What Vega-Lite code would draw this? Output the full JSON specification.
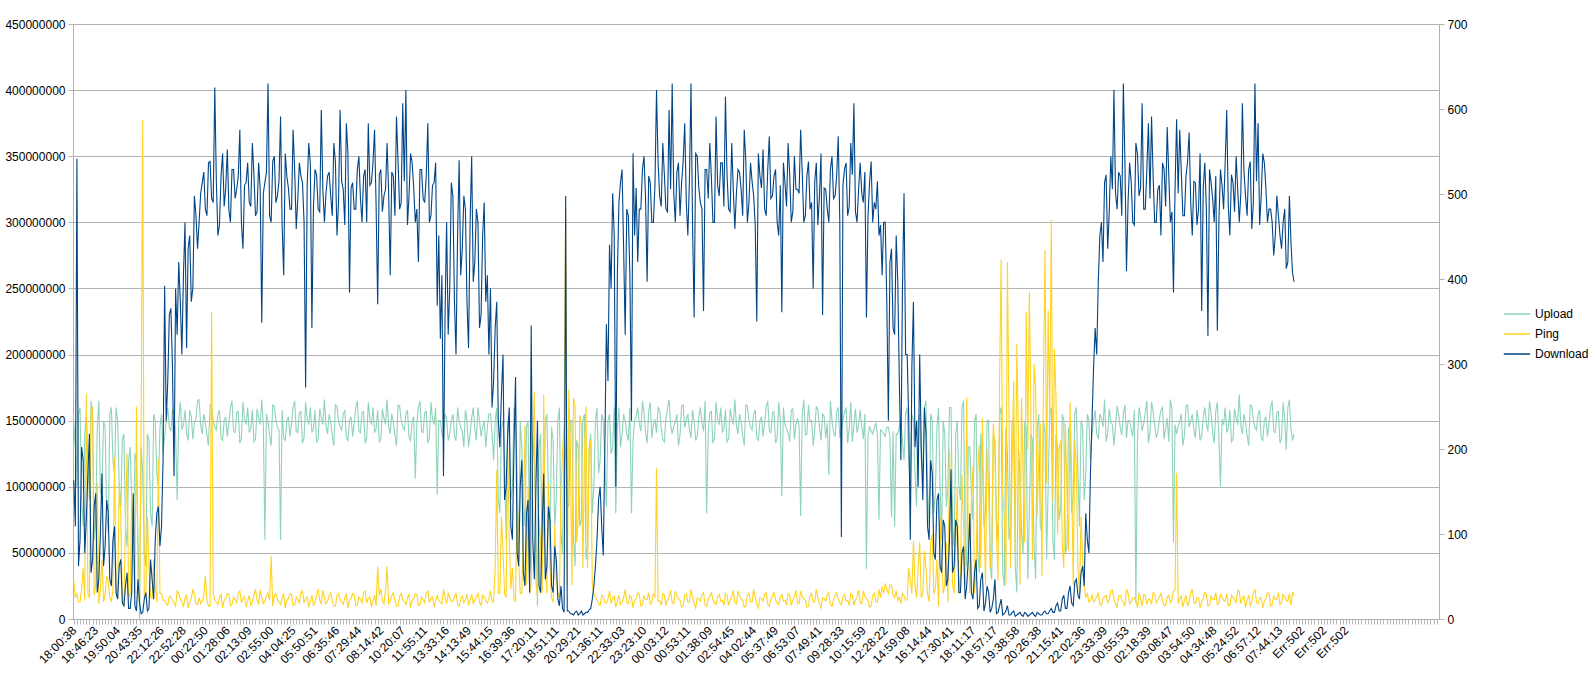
{
"$schema": "https://vega.github.io/schema/vega-lite/v6.json",
"autosize": {"type": "none"},
"padding": {"left": 73, "top": 24, "right": 156, "bottom": 62},
"width": 1366,
"height": 595,
"background": "white",
"config": {"font": "Liberation Sans", "view": {"stroke": null},
 "axis": {"labelFont": "Liberation Sans", "labelFontSize": 12, "labelColor": "#000000", "domainColor": "#b3b3b3", "tickColor": "#b3b3b3", "gridColor": "#b3b3b3", "tickSize": 5, "title": null}},
"data": {"values": [
{"i":0,"d":105000000,"u":130000000,"p":45},{"i":1,"d":70000000,"u":150000000,"p":25},{"i":2,"d":348000000,"u":100000000,"p":30},{"i":3,"d":40000000,"u":155000000,"p":20},{"i":4,"d":60000000,"u":160000000,"p":20},{"i":5,"d":130000000,"u":90000000,"p":35},{"i":6,"d":120000000,"u":70000000,"p":60},{"i":7,"d":50000000,"u":140000000,"p":22},{"i":8,"d":75000000,"u":155000000,"p":265},{"i":9,"d":110000000,"u":120000000,"p":30},
{"i":10,"d":140000000,"u":90000000,"p":25},{"i":11,"d":35000000,"u":165000000,"p":240},{"i":12,"d":45000000,"u":150000000,"p":250},{"i":13,"d":85000000,"u":60000000,"p":28},{"i":14,"d":95000000,"u":75000000,"p":40},{"i":15,"d":20000000,"u":145000000,"p":160},{"i":16,"d":30000000,"u":165000000,"p":18},{"i":17,"d":65000000,"u":95000000,"p":35},{"i":18,"d":110000000,"u":100000000,"p":70},{"i":19,"d":40000000,"u":150000000,"p":20},
{"i":20,"d":55000000,"u":145000000,"p":30},{"i":21,"d":90000000,"u":80000000,"p":50},{"i":22,"d":80000000,"u":65000000,"p":45},{"i":23,"d":30000000,"u":155000000,"p":25},{"i":24,"d":25000000,"u":160000000,"p":20},{"i":25,"d":60000000,"u":120000000,"p":35},{"i":26,"d":70000000,"u":110000000,"p":190},{"i":27,"d":20000000,"u":160000000,"p":30},{"i":28,"d":15000000,"u":150000000,"p":25},{"i":29,"d":40000000,"u":100000000,"p":160},
{"i":30,"d":45000000,"u":85000000,"p":120},{"i":31,"d":12000000,"u":135000000,"p":20},{"i":32,"d":10000000,"u":140000000,"p":15},{"i":33,"d":25000000,"u":70000000,"p":110},{"i":34,"d":35000000,"u":55000000,"p":195},{"i":35,"d":8000000,"u":120000000,"p":25},{"i":36,"d":8000000,"u":130000000,"p":30},{"i":37,"d":20000000,"u":90000000,"p":150},{"i":38,"d":95000000,"u":45000000,"p":80},{"i":39,"d":10000000,"u":125000000,"p":30},
{"i":40,"d":6000000,"u":120000000,"p":250},{"i":41,"d":30000000,"u":60000000,"p":40},{"i":42,"d":12000000,"u":0,"p":20},{"i":43,"d":4000000,"u":130000000,"p":230},{"i":44,"d":5000000,"u":110000000,"p":587},{"i":45,"d":15000000,"u":50000000,"p":25},{"i":46,"d":20000000,"u":40000000,"p":30},{"i":47,"d":6000000,"u":140000000,"p":120},{"i":48,"d":8000000,"u":135000000,"p":60},{"i":49,"d":45000000,"u":80000000,"p":25},
{"i":50,"d":30000000,"u":70000000,"p":25},{"i":51,"d":15000000,"u":155000000,"p":70},{"i":52,"d":60000000,"u":150000000,"p":40},{"i":53,"d":80000000,"u":110000000,"p":20},{"i":54,"d":85000000,"u":100000000,"p":188},{"i":55,"d":55000000,"u":145000000,"p":30},{"i":56,"d":70000000,"u":155000000,"p":30},{"i":57,"d":120000000,"u":125000000,"p":22},{"i":58,"d":252000000,"u":138000000,"p":22},{"i":59,"d":150000000,"u":150000000,"p":18},
{"i":60,"d":180000000,"u":160000000,"p":16},{"i":61,"d":230000000,"u":145000000,"p":27},{"i":62,"d":235000000,"u":142000000,"p":26},{"i":63,"d":190000000,"u":158000000,"p":22},{"i":64,"d":108000000,"u":156000000,"p":19},{"i":65,"d":250000000,"u":140000000,"p":15},{"i":66,"d":215000000,"u":90000000,"p":33},{"i":67,"d":270000000,"u":150000000,"p":30},{"i":68,"d":240000000,"u":164000000,"p":24},{"i":69,"d":200000000,"u":143000000,"p":20},
{"i":70,"d":260000000,"u":147000000,"p":14},{"i":71,"d":300000000,"u":158000000,"p":25},{"i":72,"d":205000000,"u":141000000,"p":28},{"i":73,"d":280000000,"u":135000000,"p":13},{"i":74,"d":290000000,"u":158000000,"p":20},{"i":75,"d":240000000,"u":153000000,"p":24},{"i":76,"d":250000000,"u":136000000,"p":35},{"i":77,"d":320000000,"u":148000000,"p":29},{"i":78,"d":305000000,"u":152000000,"p":18},{"i":79,"d":280000000,"u":165000000,"p":17},
{"i":80,"d":300000000,"u":166000000,"p":25},{"i":81,"d":322000000,"u":146000000,"p":18},{"i":82,"d":330000000,"u":140000000,"p":21},{"i":83,"d":338000000,"u":155000000,"p":27},{"i":84,"d":310000000,"u":149000000,"p":51},{"i":85,"d":305000000,"u":139000000,"p":22},{"i":86,"d":345000000,"u":131000000,"p":15},{"i":87,"d":346000000,"u":162000000,"p":15},{"i":88,"d":318000000,"u":161000000,"p":361},{"i":89,"d":315000000,"u":150000000,"p":30},
{"i":90,"d":402000000,"u":145000000,"p":23},{"i":91,"d":331000000,"u":143000000,"p":20},{"i":92,"d":290000000,"u":155000000,"p":17},{"i":93,"d":298000000,"u":158000000,"p":25},{"i":94,"d":335000000,"u":137000000,"p":29},{"i":95,"d":352000000,"u":135000000,"p":13},{"i":96,"d":312000000,"u":150000000,"p":22},{"i":97,"d":326000000,"u":153000000,"p":24},{"i":98,"d":355000000,"u":138000000,"p":30},{"i":99,"d":310000000,"u":148000000,"p":29},
{"i":100,"d":300000000,"u":160000000,"p":16},{"i":101,"d":340000000,"u":165000000,"p":17},{"i":102,"d":340000000,"u":142000000,"p":26},{"i":103,"d":318000000,"u":141000000,"p":23},{"i":104,"d":325000000,"u":156000000,"p":19},{"i":105,"d":335000000,"u":157000000,"p":31},{"i":106,"d":370000000,"u":133000000,"p":33},{"i":107,"d":300000000,"u":137000000,"p":19},{"i":108,"d":280000000,"u":164000000,"p":24},{"i":109,"d":328000000,"u":151000000,"p":26},
{"i":110,"d":330000000,"u":147000000,"p":14},{"i":111,"d":345000000,"u":160000000,"p":21},{"i":112,"d":315000000,"u":141000000,"p":28},{"i":113,"d":312000000,"u":144000000,"p":16},{"i":114,"d":360000000,"u":158000000,"p":20},{"i":115,"d":336000000,"u":134000000,"p":28},{"i":116,"d":305000000,"u":136000000,"p":35},{"i":117,"d":308000000,"u":159000000,"p":22},{"i":118,"d":345000000,"u":152000000,"p":18},{"i":119,"d":325000000,"u":147000000,"p":34},
{"i":120,"d":224000000,"u":166000000,"p":25},{"i":121,"d":322000000,"u":146000000,"p":18},{"i":122,"d":330000000,"u":60000000,"p":21},{"i":123,"d":338000000,"u":155000000,"p":27},{"i":124,"d":405000000,"u":149000000,"p":31},{"i":125,"d":305000000,"u":139000000,"p":22},{"i":126,"d":300000000,"u":131000000,"p":74},{"i":127,"d":346000000,"u":162000000,"p":15},{"i":128,"d":350000000,"u":161000000,"p":27},{"i":129,"d":315000000,"u":150000000,"p":30},
{"i":130,"d":320000000,"u":145000000,"p":23},{"i":131,"d":331000000,"u":143000000,"p":20},{"i":132,"d":380000000,"u":60000000,"p":17},{"i":133,"d":298000000,"u":158000000,"p":25},{"i":134,"d":260000000,"u":137000000,"p":29},{"i":135,"d":352000000,"u":135000000,"p":13},{"i":136,"d":335000000,"u":150000000,"p":22},{"i":137,"d":326000000,"u":153000000,"p":24},{"i":138,"d":310000000,"u":138000000,"p":30},{"i":139,"d":310000000,"u":148000000,"p":29},
{"i":140,"d":370000000,"u":160000000,"p":16},{"i":141,"d":340000000,"u":165000000,"p":17},{"i":142,"d":295000000,"u":142000000,"p":26},{"i":143,"d":318000000,"u":141000000,"p":23},{"i":144,"d":345000000,"u":156000000,"p":19},{"i":145,"d":335000000,"u":157000000,"p":31},{"i":146,"d":330000000,"u":133000000,"p":33},{"i":147,"d":300000000,"u":137000000,"p":19},{"i":148,"d":175000000,"u":164000000,"p":24},{"i":149,"d":328000000,"u":151000000,"p":26},
{"i":150,"d":360000000,"u":147000000,"p":14},{"i":151,"d":345000000,"u":160000000,"p":21},{"i":152,"d":220000000,"u":141000000,"p":28},{"i":153,"d":312000000,"u":144000000,"p":16},{"i":154,"d":340000000,"u":158000000,"p":20},{"i":155,"d":336000000,"u":134000000,"p":28},{"i":156,"d":310000000,"u":136000000,"p":35},{"i":157,"d":308000000,"u":159000000,"p":22},{"i":158,"d":385000000,"u":152000000,"p":18},{"i":159,"d":325000000,"u":147000000,"p":34},
{"i":160,"d":300000000,"u":166000000,"p":25},{"i":161,"d":322000000,"u":146000000,"p":18},{"i":162,"d":335000000,"u":140000000,"p":21},{"i":163,"d":338000000,"u":155000000,"p":27},{"i":164,"d":320000000,"u":149000000,"p":31},{"i":165,"d":305000000,"u":139000000,"p":22},{"i":166,"d":360000000,"u":131000000,"p":15},{"i":167,"d":346000000,"u":162000000,"p":15},{"i":168,"d":290000000,"u":161000000,"p":27},{"i":169,"d":315000000,"u":150000000,"p":30},
{"i":170,"d":385000000,"u":145000000,"p":23},{"i":171,"d":331000000,"u":143000000,"p":20},{"i":172,"d":325000000,"u":155000000,"p":17},{"i":173,"d":298000000,"u":158000000,"p":25},{"i":174,"d":375000000,"u":137000000,"p":29},{"i":175,"d":352000000,"u":135000000,"p":13},{"i":176,"d":247000000,"u":150000000,"p":22},{"i":177,"d":326000000,"u":153000000,"p":24},{"i":178,"d":330000000,"u":138000000,"p":30},{"i":179,"d":310000000,"u":148000000,"p":29},
{"i":180,"d":310000000,"u":160000000,"p":16},{"i":181,"d":340000000,"u":165000000,"p":17},{"i":182,"d":350000000,"u":142000000,"p":26},{"i":183,"d":318000000,"u":141000000,"p":23},{"i":184,"d":300000000,"u":156000000,"p":19},{"i":185,"d":335000000,"u":157000000,"p":31},{"i":186,"d":340000000,"u":133000000,"p":33},{"i":187,"d":300000000,"u":137000000,"p":19},{"i":188,"d":375000000,"u":164000000,"p":24},{"i":189,"d":328000000,"u":151000000,"p":26},
{"i":190,"d":330000000,"u":147000000,"p":14},{"i":191,"d":345000000,"u":160000000,"p":21},{"i":192,"d":370000000,"u":141000000,"p":28},{"i":193,"d":312000000,"u":144000000,"p":16},{"i":194,"d":238000000,"u":158000000,"p":62},{"i":195,"d":336000000,"u":134000000,"p":28},{"i":196,"d":340000000,"u":136000000,"p":35},{"i":197,"d":308000000,"u":159000000,"p":22},{"i":198,"d":320000000,"u":152000000,"p":18},{"i":199,"d":325000000,"u":147000000,"p":34},
{"i":200,"d":360000000,"u":166000000,"p":62},{"i":201,"d":322000000,"u":146000000,"p":18},{"i":202,"d":260000000,"u":140000000,"p":21},{"i":203,"d":338000000,"u":155000000,"p":27},{"i":204,"d":335000000,"u":149000000,"p":31},{"i":205,"d":305000000,"u":139000000,"p":22},{"i":206,"d":380000000,"u":131000000,"p":15},{"i":207,"d":346000000,"u":162000000,"p":15},{"i":208,"d":310000000,"u":161000000,"p":27},{"i":209,"d":315000000,"u":150000000,"p":30},
{"i":210,"d":390000000,"u":145000000,"p":23},{"i":211,"d":331000000,"u":143000000,"p":20},{"i":212,"d":400000000,"u":155000000,"p":17},{"i":213,"d":298000000,"u":158000000,"p":25},{"i":214,"d":320000000,"u":137000000,"p":29},{"i":215,"d":352000000,"u":135000000,"p":13},{"i":216,"d":345000000,"u":150000000,"p":22},{"i":217,"d":326000000,"u":153000000,"p":24},{"i":218,"d":300000000,"u":106000000,"p":30},{"i":219,"d":310000000,"u":148000000,"p":29},
{"i":220,"d":270000000,"u":160000000,"p":16},{"i":221,"d":340000000,"u":165000000,"p":17},{"i":222,"d":340000000,"u":142000000,"p":26},{"i":223,"d":318000000,"u":141000000,"p":23},{"i":224,"d":315000000,"u":156000000,"p":19},{"i":225,"d":335000000,"u":157000000,"p":31},{"i":226,"d":375000000,"u":133000000,"p":33},{"i":227,"d":300000000,"u":137000000,"p":19},{"i":228,"d":305000000,"u":164000000,"p":24},{"i":229,"d":328000000,"u":151000000,"p":26},
{"i":230,"d":330000000,"u":147000000,"p":14},{"i":231,"d":345000000,"u":160000000,"p":21},{"i":232,"d":237000000,"u":94000000,"p":28},{"i":233,"d":290000000,"u":150000000,"p":22},{"i":234,"d":212000000,"u":150000000,"p":20},{"i":235,"d":260000000,"u":140000000,"p":18},{"i":236,"d":108000000,"u":136000000,"p":35},{"i":237,"d":230000000,"u":155000000,"p":25},{"i":238,"d":300000000,"u":152000000,"p":18},{"i":239,"d":215000000,"u":135000000,"p":30},
{"i":240,"d":250000000,"u":140000000,"p":25},{"i":241,"d":330000000,"u":150000000,"p":20},{"i":242,"d":320000000,"u":155000000,"p":21},{"i":243,"d":240000000,"u":138000000,"p":26},{"i":244,"d":200000000,"u":135000000,"p":31},{"i":245,"d":290000000,"u":160000000,"p":17},{"i":246,"d":347000000,"u":150000000,"p":15},{"i":247,"d":260000000,"u":145000000,"p":24},{"i":248,"d":280000000,"u":142000000,"p":27},{"i":249,"d":320000000,"u":130000000,"p":19},
{"i":250,"d":310000000,"u":158000000,"p":23},{"i":251,"d":240000000,"u":150000000,"p":28},{"i":252,"d":205000000,"u":130000000,"p":17},{"i":253,"d":300000000,"u":140000000,"p":22},{"i":254,"d":350000000,"u":152000000,"p":29},{"i":255,"d":255000000,"u":160000000,"p":18},{"i":256,"d":270000000,"u":144000000,"p":22},{"i":257,"d":310000000,"u":135000000,"p":26},{"i":258,"d":300000000,"u":160000000,"p":30},{"i":259,"d":220000000,"u":150000000,"p":20},
{"i":260,"d":230000000,"u":138000000,"p":16},{"i":261,"d":290000000,"u":145000000,"p":28},{"i":262,"d":315000000,"u":150000000,"p":26},{"i":263,"d":240000000,"u":130000000,"p":21},{"i":264,"d":260000000,"u":145000000,"p":19},{"i":265,"d":200000000,"u":155000000,"p":24},{"i":266,"d":250000000,"u":155000000,"p":33},{"i":267,"d":160000000,"u":140000000,"p":20},{"i":268,"d":180000000,"u":120000000,"p":20},{"i":269,"d":220000000,"u":150000000,"p":60},
{"i":270,"d":240000000,"u":160000000,"p":175},{"i":271,"d":150000000,"u":90000000,"p":30},{"i":272,"d":130000000,"u":80000000,"p":30},{"i":273,"d":170000000,"u":145000000,"p":120},{"i":274,"d":200000000,"u":150000000,"p":80},{"i":275,"d":90000000,"u":120000000,"p":30},{"i":276,"d":100000000,"u":60000000,"p":25},{"i":277,"d":140000000,"u":150000000,"p":200},{"i":278,"d":160000000,"u":140000000,"p":95},{"i":279,"d":70000000,"u":90000000,"p":35},
{"i":280,"d":60000000,"u":100000000,"p":60},{"i":281,"d":130000000,"u":160000000,"p":25},{"i":282,"d":183000000,"u":155000000,"p":20},{"i":283,"d":50000000,"u":110000000,"p":150},{"i":284,"d":40000000,"u":45000000,"p":70},{"i":285,"d":100000000,"u":150000000,"p":30},{"i":286,"d":120000000,"u":130000000,"p":30},{"i":287,"d":35000000,"u":90000000,"p":110},{"i":288,"d":25000000,"u":70000000,"p":228},{"i":289,"d":80000000,"u":145000000,"p":40},
{"i":290,"d":90000000,"u":150000000,"p":155},{"i":291,"d":20000000,"u":55000000,"p":30},{"i":292,"d":222000000,"u":35000000,"p":40},{"i":293,"d":60000000,"u":140000000,"p":200},{"i":294,"d":30000000,"u":120000000,"p":267},{"i":295,"d":100000000,"u":75000000,"p":45},{"i":296,"d":150000000,"u":10000000,"p":25},{"i":297,"d":25000000,"u":130000000,"p":120},{"i":298,"d":20000000,"u":140000000,"p":90},{"i":299,"d":70000000,"u":40000000,"p":30},
{"i":300,"d":110000000,"u":80000000,"p":264},{"i":301,"d":30000000,"u":150000000,"p":60},{"i":302,"d":40000000,"u":155000000,"p":30},{"i":303,"d":85000000,"u":95000000,"p":160},{"i":304,"d":75000000,"u":60000000,"p":60},{"i":305,"d":25000000,"u":145000000,"p":25},{"i":306,"d":20000000,"u":135000000,"p":20},{"i":307,"d":55000000,"u":70000000,"p":110},{"i":308,"d":45000000,"u":90000000,"p":45},{"i":309,"d":15000000,"u":150000000,"p":30},
{"i":310,"d":10000000,"u":160000000,"p":25},{"i":311,"d":25000000,"u":65000000,"p":150},{"i":312,"d":8000000,"u":50000000,"p":196},{"i":313,"d":5000000,"u":140000000,"p":230},{"i":314,"d":320000000,"u":125000000,"p":484},{"i":315,"d":6000000,"u":90000000,"p":40},{"i":316,"d":6000000,"u":85000000,"p":270},{"i":317,"d":4000000,"u":150000000,"p":200},{"i":318,"d":4000000,"u":150000000,"p":40},{"i":319,"d":3000000,"u":60000000,"p":260},
{"i":320,"d":5000000,"u":40000000,"p":250},{"i":321,"d":6000000,"u":135000000,"p":90},{"i":322,"d":3000000,"u":130000000,"p":120},{"i":323,"d":4000000,"u":70000000,"p":240},{"i":324,"d":6000000,"u":75000000,"p":230},{"i":325,"d":3000000,"u":150000000,"p":60},{"i":326,"d":4000000,"u":155000000,"p":195},{"i":327,"d":5000000,"u":45000000,"p":250},{"i":328,"d":5000000,"u":55000000,"p":60},{"i":329,"d":7000000,"u":130000000,"p":200},
{"i":330,"d":8000000,"u":140000000,"p":210},{"i":331,"d":15000000,"u":80000000,"p":40},{"i":332,"d":25000000,"u":100000000,"p":30},{"i":333,"d":40000000,"u":150000000,"p":25},{"i":334,"d":60000000,"u":160000000,"p":22},{"i":335,"d":90000000,"u":110000000,"p":18},{"i":336,"d":100000000,"u":120000000,"p":16},{"i":337,"d":70000000,"u":155000000,"p":28},{"i":338,"d":48000000,"u":150000000,"p":26},{"i":339,"d":130000000,"u":120000000,"p":20},
{"i":340,"d":223000000,"u":85000000,"p":19},{"i":341,"d":180000000,"u":150000000,"p":24},{"i":342,"d":283000000,"u":155000000,"p":33},{"i":343,"d":250000000,"u":125000000,"p":18},{"i":344,"d":322000000,"u":130000000,"p":24},{"i":345,"d":290000000,"u":160000000,"p":27},{"i":346,"d":100000000,"u":80000000,"p":14},{"i":347,"d":260000000,"u":145000000,"p":21},{"i":348,"d":315000000,"u":160000000,"p":28},{"i":349,"d":330000000,"u":130000000,"p":17},
{"i":350,"d":340000000,"u":140000000,"p":20},{"i":351,"d":280000000,"u":155000000,"p":25},{"i":352,"d":215000000,"u":150000000,"p":35},{"i":353,"d":310000000,"u":140000000,"p":19},{"i":354,"d":305000000,"u":135000000,"p":18},{"i":355,"d":260000000,"u":160000000,"p":28},{"i":356,"d":150000000,"u":80000000,"p":25},{"i":357,"d":352000000,"u":135000000,"p":13},{"i":358,"d":290000000,"u":150000000,"p":21},{"i":359,"d":326000000,"u":153000000,"p":24},
{"i":360,"d":270000000,"u":160000000,"p":31},{"i":361,"d":310000000,"u":148000000,"p":29},{"i":362,"d":310000000,"u":142000000,"p":15},{"i":363,"d":340000000,"u":165000000,"p":17},{"i":364,"d":350000000,"u":156000000,"p":27},{"i":365,"d":318000000,"u":141000000,"p":23},{"i":366,"d":255000000,"u":133000000,"p":23},{"i":367,"d":335000000,"u":157000000,"p":31},{"i":368,"d":330000000,"u":164000000,"p":17},{"i":369,"d":300000000,"u":137000000,"p":19},
{"i":370,"d":300000000,"u":147000000,"p":29},{"i":371,"d":328000000,"u":151000000,"p":26},{"i":372,"d":400000000,"u":141000000,"p":177},{"i":373,"d":345000000,"u":160000000,"p":21},{"i":374,"d":320000000,"u":158000000,"p":22},{"i":375,"d":312000000,"u":144000000,"p":16},{"i":376,"d":360000000,"u":136000000,"p":30},{"i":377,"d":336000000,"u":134000000,"p":28},{"i":378,"d":310000000,"u":152000000,"p":16},{"i":379,"d":308000000,"u":159000000,"p":22},
{"i":380,"d":385000000,"u":166000000,"p":26},{"i":381,"d":325000000,"u":147000000,"p":34},{"i":382,"d":405000000,"u":140000000,"p":19},{"i":383,"d":322000000,"u":146000000,"p":18},{"i":384,"d":300000000,"u":149000000,"p":33},{"i":385,"d":338000000,"u":155000000,"p":27},{"i":386,"d":345000000,"u":131000000,"p":24},{"i":387,"d":305000000,"u":139000000,"p":22},{"i":388,"d":330000000,"u":161000000,"p":14},{"i":389,"d":346000000,"u":162000000,"p":15},
{"i":390,"d":375000000,"u":145000000,"p":28},{"i":391,"d":315000000,"u":150000000,"p":30},{"i":392,"d":290000000,"u":155000000,"p":20},{"i":393,"d":331000000,"u":143000000,"p":20},{"i":394,"d":405000000,"u":137000000,"p":35},{"i":395,"d":298000000,"u":158000000,"p":25},{"i":396,"d":228000000,"u":150000000,"p":18},{"i":397,"d":352000000,"u":135000000,"p":13},{"i":398,"d":350000000,"u":138000000,"p":25},{"i":399,"d":326000000,"u":153000000,"p":24},
{"i":400,"d":315000000,"u":160000000,"p":21},{"i":401,"d":310000000,"u":148000000,"p":29},{"i":402,"d":233000000,"u":142000000,"p":31},{"i":403,"d":340000000,"u":165000000,"p":17},{"i":404,"d":340000000,"u":80000000,"p":15},{"i":405,"d":318000000,"u":141000000,"p":23},{"i":406,"d":360000000,"u":156000000,"p":27},{"i":407,"d":335000000,"u":157000000,"p":31},{"i":408,"d":300000000,"u":133000000,"p":23},{"i":409,"d":300000000,"u":137000000,"p":19},
{"i":410,"d":380000000,"u":164000000,"p":17},{"i":411,"d":328000000,"u":151000000,"p":26},{"i":412,"d":320000000,"u":147000000,"p":29},{"i":413,"d":345000000,"u":160000000,"p":21},{"i":414,"d":345000000,"u":141000000,"p":22},{"i":415,"d":312000000,"u":144000000,"p":16},{"i":416,"d":395000000,"u":158000000,"p":30},{"i":417,"d":336000000,"u":134000000,"p":28},{"i":418,"d":310000000,"u":136000000,"p":16},{"i":419,"d":308000000,"u":159000000,"p":22},
{"i":420,"d":360000000,"u":152000000,"p":26},{"i":421,"d":325000000,"u":147000000,"p":34},{"i":422,"d":295000000,"u":166000000,"p":19},{"i":423,"d":322000000,"u":146000000,"p":18},{"i":424,"d":340000000,"u":140000000,"p":33},{"i":425,"d":338000000,"u":155000000,"p":27},{"i":426,"d":325000000,"u":149000000,"p":24},{"i":427,"d":305000000,"u":139000000,"p":22},{"i":428,"d":370000000,"u":131000000,"p":14},{"i":429,"d":346000000,"u":162000000,"p":15},
{"i":430,"d":300000000,"u":161000000,"p":28},{"i":431,"d":315000000,"u":150000000,"p":30},{"i":432,"d":345000000,"u":145000000,"p":20},{"i":433,"d":331000000,"u":143000000,"p":20},{"i":434,"d":320000000,"u":155000000,"p":35},{"i":435,"d":298000000,"u":158000000,"p":25},{"i":436,"d":225000000,"u":137000000,"p":18},{"i":437,"d":352000000,"u":135000000,"p":13},{"i":438,"d":335000000,"u":150000000,"p":25},{"i":439,"d":326000000,"u":153000000,"p":24},
{"i":440,"d":355000000,"u":138000000,"p":21},{"i":441,"d":310000000,"u":148000000,"p":29},{"i":442,"d":305000000,"u":160000000,"p":31},{"i":443,"d":340000000,"u":165000000,"p":17},{"i":444,"d":365000000,"u":142000000,"p":15},{"i":445,"d":318000000,"u":141000000,"p":23},{"i":446,"d":320000000,"u":156000000,"p":27},{"i":447,"d":335000000,"u":157000000,"p":31},{"i":448,"d":340000000,"u":133000000,"p":23},{"i":449,"d":300000000,"u":137000000,"p":19},
{"i":450,"d":290000000,"u":164000000,"p":17},{"i":451,"d":328000000,"u":151000000,"p":26},{"i":452,"d":232000000,"u":93000000,"p":29},{"i":453,"d":345000000,"u":160000000,"p":21},{"i":454,"d":330000000,"u":147000000,"p":22},{"i":455,"d":312000000,"u":144000000,"p":16},{"i":456,"d":360000000,"u":141000000,"p":30},{"i":457,"d":336000000,"u":134000000,"p":28},{"i":458,"d":300000000,"u":158000000,"p":16},{"i":459,"d":308000000,"u":159000000,"p":22},
{"i":460,"d":350000000,"u":136000000,"p":26},{"i":461,"d":325000000,"u":147000000,"p":34},{"i":462,"d":325000000,"u":152000000,"p":19},{"i":463,"d":322000000,"u":146000000,"p":18},{"i":464,"d":370000000,"u":78000000,"p":33},{"i":465,"d":338000000,"u":155000000,"p":27},{"i":466,"d":300000000,"u":166000000,"p":24},{"i":467,"d":305000000,"u":139000000,"p":22},{"i":468,"d":335000000,"u":140000000,"p":14},{"i":469,"d":346000000,"u":162000000,"p":15},
{"i":470,"d":310000000,"u":149000000,"p":28},{"i":471,"d":315000000,"u":150000000,"p":30},{"i":472,"d":250000000,"u":131000000,"p":20},{"i":473,"d":331000000,"u":143000000,"p":20},{"i":474,"d":345000000,"u":161000000,"p":35},{"i":475,"d":298000000,"u":158000000,"p":25},{"i":476,"d":320000000,"u":145000000,"p":18},{"i":477,"d":352000000,"u":135000000,"p":13},{"i":478,"d":230000000,"u":155000000,"p":25},{"i":479,"d":326000000,"u":153000000,"p":24},
{"i":480,"d":325000000,"u":137000000,"p":21},{"i":481,"d":310000000,"u":148000000,"p":29},{"i":482,"d":300000000,"u":109000000,"p":31},{"i":483,"d":340000000,"u":165000000,"p":17},{"i":484,"d":350000000,"u":150000000,"p":15},{"i":485,"d":318000000,"u":141000000,"p":23},{"i":486,"d":320000000,"u":138000000,"p":27},{"i":487,"d":335000000,"u":157000000,"p":31},{"i":488,"d":365000000,"u":160000000,"p":23},{"i":489,"d":300000000,"u":137000000,"p":19},
{"i":490,"d":62000000,"u":142000000,"p":17},{"i":491,"d":328000000,"u":151000000,"p":26},{"i":492,"d":340000000,"u":156000000,"p":29},{"i":493,"d":345000000,"u":160000000,"p":21},{"i":494,"d":305000000,"u":133000000,"p":22},{"i":495,"d":312000000,"u":144000000,"p":16},{"i":496,"d":360000000,"u":164000000,"p":30},{"i":497,"d":336000000,"u":134000000,"p":28},{"i":498,"d":390000000,"u":147000000,"p":16},{"i":499,"d":308000000,"u":159000000,"p":22},
{"i":500,"d":300000000,"u":141000000,"p":26},{"i":501,"d":325000000,"u":147000000,"p":34},{"i":502,"d":345000000,"u":158000000,"p":19},{"i":503,"d":322000000,"u":146000000,"p":18},{"i":504,"d":315000000,"u":136000000,"p":33},{"i":505,"d":338000000,"u":155000000,"p":27},{"i":506,"d":228000000,"u":38000000,"p":24},{"i":507,"d":305000000,"u":139000000,"p":22},{"i":508,"d":330000000,"u":145000000,"p":14},{"i":509,"d":346000000,"u":142000000,"p":15},
{"i":510,"d":300000000,"u":140000000,"p":28},{"i":511,"d":315000000,"u":145000000,"p":30},{"i":512,"d":310000000,"u":148000000,"p":20},{"i":513,"d":331000000,"u":140000000,"p":20},{"i":514,"d":290000000,"u":75000000,"p":35},{"i":515,"d":298000000,"u":143000000,"p":25},{"i":516,"d":260000000,"u":142000000,"p":38},{"i":517,"d":300000000,"u":140000000,"p":30},{"i":518,"d":300000000,"u":138000000,"p":42},{"i":519,"d":240000000,"u":145000000,"p":35},
{"i":520,"d":150000000,"u":145000000,"p":30},{"i":521,"d":270000000,"u":138000000,"p":40},{"i":522,"d":280000000,"u":77000000,"p":40},{"i":523,"d":220000000,"u":142000000,"p":28},{"i":524,"d":215000000,"u":70000000,"p":25},{"i":525,"d":290000000,"u":140000000,"p":33},{"i":526,"d":255000000,"u":140000000,"p":22},{"i":527,"d":180000000,"u":145000000,"p":26},{"i":528,"d":120000000,"u":150000000,"p":18},{"i":529,"d":250000000,"u":135000000,"p":30},
{"i":530,"d":322000000,"u":120000000,"p":27},{"i":531,"d":200000000,"u":155000000,"p":22},{"i":532,"d":200000000,"u":160000000,"p":23},{"i":533,"d":150000000,"u":120000000,"p":60},{"i":534,"d":60000000,"u":100000000,"p":45},{"i":535,"d":190000000,"u":155000000,"p":30},{"i":536,"d":240000000,"u":150000000,"p":92},{"i":537,"d":130000000,"u":110000000,"p":40},{"i":538,"d":150000000,"u":85000000,"p":25},{"i":539,"d":100000000,"u":150000000,"p":60},
{"i":540,"d":200000000,"u":155000000,"p":90},{"i":541,"d":130000000,"u":120000000,"p":25},{"i":542,"d":90000000,"u":110000000,"p":30},{"i":543,"d":160000000,"u":160000000,"p":80},{"i":544,"d":140000000,"u":165000000,"p":60},{"i":545,"d":70000000,"u":100000000,"p":30},{"i":546,"d":60000000,"u":70000000,"p":20},{"i":547,"d":120000000,"u":155000000,"p":90},{"i":548,"d":110000000,"u":150000000,"p":100},{"i":549,"d":50000000,"u":80000000,"p":30},
{"i":550,"d":45000000,"u":95000000,"p":35},{"i":551,"d":90000000,"u":145000000,"p":70},{"i":552,"d":95000000,"u":160000000,"p":15},{"i":553,"d":40000000,"u":100000000,"p":120},{"i":554,"d":35000000,"u":60000000,"p":70},{"i":555,"d":75000000,"u":150000000,"p":30},{"i":556,"d":70000000,"u":140000000,"p":40},{"i":557,"d":25000000,"u":85000000,"p":90},{"i":558,"d":30000000,"u":100000000,"p":20},{"i":559,"d":60000000,"u":160000000,"p":200},
{"i":560,"d":113000000,"u":160000000,"p":130},{"i":561,"d":35000000,"u":70000000,"p":40},{"i":562,"d":40000000,"u":55000000,"p":30},{"i":563,"d":75000000,"u":140000000,"p":90},{"i":564,"d":70000000,"u":150000000,"p":155},{"i":565,"d":20000000,"u":100000000,"p":30},{"i":566,"d":20000000,"u":90000000,"p":50},{"i":567,"d":50000000,"u":160000000,"p":170},{"i":568,"d":55000000,"u":165000000,"p":110},{"i":569,"d":15000000,"u":60000000,"p":40},
{"i":570,"d":25000000,"u":40000000,"p":261},{"i":571,"d":45000000,"u":130000000,"p":90},{"i":572,"d":80000000,"u":130000000,"p":30},{"i":573,"d":20000000,"u":95000000,"p":140},{"i":574,"d":15000000,"u":75000000,"p":180},{"i":575,"d":35000000,"u":150000000,"p":30},{"i":576,"d":45000000,"u":155000000,"p":60},{"i":577,"d":8000000,"u":50000000,"p":170},{"i":578,"d":10000000,"u":35000000,"p":205},{"i":579,"d":30000000,"u":140000000,"p":60},
{"i":580,"d":35000000,"u":120000000,"p":236},{"i":581,"d":6000000,"u":70000000,"p":130},{"i":582,"d":12000000,"u":80000000,"p":40},{"i":583,"d":25000000,"u":150000000,"p":200},{"i":584,"d":20000000,"u":150000000,"p":150},{"i":585,"d":5000000,"u":40000000,"p":60},{"i":586,"d":8000000,"u":30000000,"p":90},{"i":587,"d":15000000,"u":140000000,"p":230},{"i":588,"d":30000000,"u":135000000,"p":200},{"i":589,"d":4000000,"u":75000000,"p":100},
{"i":590,"d":5000000,"u":60000000,"p":45},{"i":591,"d":10000000,"u":155000000,"p":280},{"i":592,"d":15000000,"u":160000000,"p":423},{"i":593,"d":3000000,"u":35000000,"p":150},{"i":594,"d":4000000,"u":25000000,"p":120},{"i":595,"d":6000000,"u":145000000,"p":40},{"i":596,"d":10000000,"u":125000000,"p":420},{"i":597,"d":3000000,"u":60000000,"p":240},{"i":598,"d":3000000,"u":70000000,"p":60},{"i":599,"d":5000000,"u":150000000,"p":180},
{"i":600,"d":6000000,"u":150000000,"p":280},{"i":601,"d":2000000,"u":40000000,"p":80},{"i":602,"d":3000000,"u":20000000,"p":324},{"i":603,"d":4000000,"u":130000000,"p":220},{"i":604,"d":5000000,"u":110000000,"p":40},{"i":605,"d":3000000,"u":65000000,"p":260},{"i":606,"d":2000000,"u":50000000,"p":170},{"i":607,"d":5000000,"u":150000000,"p":90},{"i":608,"d":4000000,"u":145000000,"p":361},{"i":609,"d":2000000,"u":30000000,"p":200},
{"i":610,"d":3000000,"u":80000000,"p":385},{"i":611,"d":4000000,"u":140000000,"p":240},{"i":612,"d":5000000,"u":135000000,"p":70},{"i":613,"d":3000000,"u":55000000,"p":300},{"i":614,"d":2000000,"u":30000000,"p":272},{"i":615,"d":5000000,"u":145000000,"p":120},{"i":616,"d":4000000,"u":155000000,"p":190},{"i":617,"d":3000000,"u":70000000,"p":230},{"i":618,"d":3000000,"u":65000000,"p":50},{"i":619,"d":5000000,"u":150000000,"p":280},
{"i":620,"d":6000000,"u":140000000,"p":434},{"i":621,"d":4000000,"u":45000000,"p":160},{"i":622,"d":4000000,"u":100000000,"p":363},{"i":623,"d":6000000,"u":155000000,"p":240},{"i":624,"d":8000000,"u":160000000,"p":470},{"i":625,"d":5000000,"u":60000000,"p":140},{"i":626,"d":5000000,"u":45000000,"p":318},{"i":627,"d":10000000,"u":140000000,"p":260},{"i":628,"d":12000000,"u":130000000,"p":100},{"i":629,"d":6000000,"u":75000000,"p":200},
{"i":630,"d":6000000,"u":85000000,"p":210},{"i":631,"d":15000000,"u":155000000,"p":90},{"i":632,"d":18000000,"u":150000000,"p":60},{"i":633,"d":8000000,"u":50000000,"p":230},{"i":634,"d":8000000,"u":55000000,"p":150},{"i":635,"d":20000000,"u":145000000,"p":80},{"i":636,"d":25000000,"u":140000000,"p":255},{"i":637,"d":12000000,"u":80000000,"p":170},{"i":638,"d":10000000,"u":95000000,"p":40},{"i":639,"d":28000000,"u":155000000,"p":210},
{"i":640,"d":30000000,"u":160000000,"p":180},{"i":641,"d":18000000,"u":110000000,"p":60},{"i":642,"d":15000000,"u":70000000,"p":30},{"i":643,"d":35000000,"u":150000000,"p":120},{"i":644,"d":40000000,"u":145000000,"p":70},{"i":645,"d":25000000,"u":90000000,"p":40},{"i":646,"d":80000000,"u":110000000,"p":25},{"i":647,"d":60000000,"u":155000000,"p":30},{"i":648,"d":50000000,"u":150000000,"p":20},{"i":649,"d":110000000,"u":120000000,"p":22},
{"i":650,"d":150000000,"u":140000000,"p":28},{"i":651,"d":190000000,"u":150000000,"p":20},{"i":652,"d":220000000,"u":158000000,"p":22},{"i":653,"d":200000000,"u":140000000,"p":26},{"i":654,"d":255000000,"u":136000000,"p":30},{"i":655,"d":290000000,"u":155000000,"p":18},{"i":656,"d":300000000,"u":152000000,"p":16},{"i":657,"d":270000000,"u":145000000,"p":24},{"i":658,"d":330000000,"u":166000000,"p":26},{"i":659,"d":336000000,"u":134000000,"p":28},
{"i":660,"d":280000000,"u":140000000,"p":19},{"i":661,"d":308000000,"u":159000000,"p":22},{"i":662,"d":350000000,"u":149000000,"p":33},{"i":663,"d":325000000,"u":147000000,"p":34},{"i":664,"d":400000000,"u":131000000,"p":24},{"i":665,"d":322000000,"u":146000000,"p":18},{"i":666,"d":310000000,"u":161000000,"p":14},{"i":667,"d":338000000,"u":155000000,"p":27},{"i":668,"d":335000000,"u":145000000,"p":28},{"i":669,"d":305000000,"u":139000000,"p":22},
{"i":670,"d":405000000,"u":155000000,"p":20},{"i":671,"d":346000000,"u":162000000,"p":15},{"i":672,"d":263000000,"u":137000000,"p":35},{"i":673,"d":315000000,"u":150000000,"p":30},{"i":674,"d":345000000,"u":150000000,"p":18},{"i":675,"d":331000000,"u":143000000,"p":20},{"i":676,"d":300000000,"u":138000000,"p":25},{"i":677,"d":298000000,"u":158000000,"p":25},{"i":678,"d":360000000,"u":12000000,"p":21},{"i":679,"d":352000000,"u":135000000,"p":13},
{"i":680,"d":320000000,"u":160000000,"p":31},{"i":681,"d":326000000,"u":153000000,"p":24},{"i":682,"d":390000000,"u":142000000,"p":15},{"i":683,"d":310000000,"u":148000000,"p":29},{"i":684,"d":310000000,"u":156000000,"p":27},{"i":685,"d":340000000,"u":165000000,"p":17},{"i":686,"d":375000000,"u":133000000,"p":23},{"i":687,"d":318000000,"u":141000000,"p":23},{"i":688,"d":380000000,"u":164000000,"p":17},{"i":689,"d":335000000,"u":157000000,"p":31},
{"i":690,"d":300000000,"u":147000000,"p":29},{"i":691,"d":300000000,"u":137000000,"p":19},{"i":692,"d":325000000,"u":141000000,"p":22},{"i":693,"d":328000000,"u":151000000,"p":26},{"i":694,"d":290000000,"u":158000000,"p":30},{"i":695,"d":345000000,"u":160000000,"p":21},{"i":696,"d":340000000,"u":136000000,"p":16},{"i":697,"d":312000000,"u":144000000,"p":16},{"i":698,"d":372000000,"u":152000000,"p":26},{"i":699,"d":336000000,"u":134000000,"p":28},
{"i":700,"d":300000000,"u":166000000,"p":19},{"i":701,"d":308000000,"u":159000000,"p":22},{"i":702,"d":247000000,"u":58000000,"p":33},{"i":703,"d":325000000,"u":147000000,"p":34},{"i":704,"d":378000000,"u":140000000,"p":172},{"i":705,"d":322000000,"u":146000000,"p":18},{"i":706,"d":370000000,"u":149000000,"p":24},{"i":707,"d":338000000,"u":155000000,"p":27},{"i":708,"d":305000000,"u":131000000,"p":14},{"i":709,"d":305000000,"u":139000000,"p":22},
{"i":710,"d":335000000,"u":161000000,"p":28},{"i":711,"d":346000000,"u":162000000,"p":15},{"i":712,"d":368000000,"u":145000000,"p":20},{"i":713,"d":315000000,"u":150000000,"p":30},{"i":714,"d":290000000,"u":155000000,"p":35},{"i":715,"d":331000000,"u":143000000,"p":20},{"i":716,"d":330000000,"u":137000000,"p":18},{"i":717,"d":298000000,"u":158000000,"p":25},{"i":718,"d":310000000,"u":150000000,"p":25},{"i":719,"d":352000000,"u":135000000,"p":13},
{"i":720,"d":233000000,"u":138000000,"p":21},{"i":721,"d":326000000,"u":153000000,"p":24},{"i":722,"d":345000000,"u":160000000,"p":31},{"i":723,"d":310000000,"u":148000000,"p":29},{"i":724,"d":214000000,"u":142000000,"p":15},{"i":725,"d":340000000,"u":165000000,"p":17},{"i":726,"d":330000000,"u":156000000,"p":27},{"i":727,"d":318000000,"u":141000000,"p":23},{"i":728,"d":300000000,"u":133000000,"p":23},{"i":729,"d":335000000,"u":157000000,"p":31},
{"i":730,"d":218000000,"u":164000000,"p":17},{"i":731,"d":300000000,"u":137000000,"p":19},{"i":732,"d":340000000,"u":100000000,"p":29},{"i":733,"d":328000000,"u":151000000,"p":26},{"i":734,"d":310000000,"u":147000000,"p":22},{"i":735,"d":345000000,"u":160000000,"p":21},{"i":736,"d":385000000,"u":141000000,"p":30},{"i":737,"d":312000000,"u":144000000,"p":16},{"i":738,"d":290000000,"u":158000000,"p":16},{"i":739,"d":336000000,"u":134000000,"p":28},
{"i":740,"d":330000000,"u":136000000,"p":26},{"i":741,"d":308000000,"u":159000000,"p":22},{"i":742,"d":350000000,"u":152000000,"p":19},{"i":743,"d":325000000,"u":147000000,"p":34},{"i":744,"d":300000000,"u":170000000,"p":33},{"i":745,"d":322000000,"u":146000000,"p":18},{"i":746,"d":390000000,"u":140000000,"p":24},{"i":747,"d":338000000,"u":155000000,"p":27},{"i":748,"d":320000000,"u":149000000,"p":14},{"i":749,"d":305000000,"u":139000000,"p":22},
{"i":750,"d":340000000,"u":131000000,"p":28},{"i":751,"d":346000000,"u":162000000,"p":15},{"i":752,"d":295000000,"u":161000000,"p":20},{"i":753,"d":315000000,"u":150000000,"p":30},{"i":754,"d":405000000,"u":145000000,"p":35},{"i":755,"d":331000000,"u":143000000,"p":20},{"i":756,"d":375000000,"u":155000000,"p":18},{"i":757,"d":298000000,"u":158000000,"p":25},{"i":758,"d":320000000,"u":137000000,"p":25},{"i":759,"d":352000000,"u":135000000,"p":13},
{"i":760,"d":345000000,"u":150000000,"p":21},{"i":761,"d":326000000,"u":153000000,"p":24},{"i":762,"d":300000000,"u":138000000,"p":31},{"i":763,"d":310000000,"u":148000000,"p":29},{"i":764,"d":310000000,"u":160000000,"p":15},{"i":765,"d":300000000,"u":165000000,"p":17},{"i":766,"d":275000000,"u":142000000,"p":27},{"i":767,"d":290000000,"u":141000000,"p":23},{"i":768,"d":320000000,"u":156000000,"p":23},{"i":769,"d":305000000,"u":157000000,"p":31},
{"i":770,"d":290000000,"u":133000000,"p":17},{"i":771,"d":280000000,"u":137000000,"p":19},{"i":772,"d":300000000,"u":164000000,"p":29},{"i":773,"d":310000000,"u":151000000,"p":26},{"i":774,"d":265000000,"u":128000000,"p":22},{"i":775,"d":270000000,"u":160000000,"p":21},{"i":776,"d":320000000,"u":166000000,"p":30},{"i":777,"d":285000000,"u":144000000,"p":16},{"i":778,"d":262000000,"u":135000000,"p":32},{"i":779,"d":255000000,"u":140000000,"p":27}
]},
"encoding": {
 "x": {"field": "i", "type": "quantitative",
  "scale": {"domain": [-0.5, 871.5], "nice": false, "zero": false},
  "axis": {"grid": false, "labelAngle": -45, "labelAlign": "right", "labelBaseline": "middle", "labelOverlap": false, "labelFlush": false, "labelBound": false, "labelPadding": 4, "tickSize": 5,
   "values": [0,2,4,6,8,10,12,14,16,18,20,22,24,26,28,30,32,34,36,38,40,42,44,46,48,50,52,54,56,58,60,62,64,66,68,70,72,74,76,78,80,82,84,86,88,90,92,94,96,98,100,102,104,106,108,110,112,114,116,118,120,122,124,126,128,130,132,134,136,138,140,142,144,146,148,150,152,154,156,158,160,162,164,166,168,170,172,174,176,178,180,182,184,186,188,190,192,194,196,198,200,202,204,206,208,210,212,214,216,218,220,222,224,226,228,230,232,234,236,238,240,242,244,246,248,250,252,254,256,258,260,262,264,266,268,270,272,274,276,278,280,282,284,286,288,290,292,294,296,298,300,302,304,306,308,310,312,314,316,318,320,322,324,326,328,330,332,334,336,338,340,342,344,346,348,350,352,354,356,358,360,362,364,366,368,370,372,374,376,378,380,382,384,386,388,390,392,394,396,398,400,402,404,406,408,410,412,414,416,418,420,422,424,426,428,430,432,434,436,438,440,442,444,446,448,450,452,454,456,458,460,462,464,466,468,470,472,474,476,478,480,482,484,486,488,490,492,494,496,498,500,502,504,506,508,510,512,514,516,518,520,522,524,526,528,530,532,534,536,538,540,542,544,546,548,550,552,554,556,558,560,562,564,566,568,570,572,574,576,578,580,582,584,586,588,590,592,594,596,598,600,602,604,606,608,610,612,614,616,618,620,622,624,626,628,630,632,634,636,638,640,642,644,646,648,650,652,654,656,658,660,662,664,666,668,670,672,674,676,678,680,682,684,686,688,690,692,694,696,698,700,702,704,706,708,710,712,714,716,718,720,722,724,726,728,730,732,734,736,738,740,742,744,746,748,750,752,754,756,758,760,762,764,766,768,770,772,774,776,778,780,782,784,786,788,790,792,794,796,798,800,802,804,806,808,810,812,814,816,818,820,822,824,826,828,830,832,834,836,838,840,842,844,846,848,850,852,854,856,858,860,862,864,866,868,870],
   "labelExpr": "(datum.value % 14 == 0 && datum.value <= 812) ? ['18:00:38','18:46:23','19:50:04','20:43:35','22:12:26','22:52:28','00:22:50','01:28:06','02:13:09','02:55:00','04:04:25','05:50:51','06:35:46','07:29:44','08:14:42','10:20:07','11:55:11','13:33:16','14:13:49','15:44:15','16:39:36','17:20:11','18:51:11','20:29:21','21:36:11','22:33:03','23:23:10','00:03:12','00:53:11','01:38:09','02:54:45','04:02:44','05:37:49','06:53:07','07:49:41','09:28:33','10:15:59','12:28:22','14:59:08','16:14:44','17:30:41','18:11:17','18:57:17','19:38:58','20:26:38','21:15:41','22:02:36','23:33:39','00:55:53','02:18:39','03:08:47','03:54:50','04:34:48','05:24:52','06:57:12','07:44:13','Err:502','Err:502','Err:502'][datum.value / 14] : ''"}}
},
"layer": [
 {"mark": {"type": "line", "strokeWidth": 1.1},
  "encoding": {
   "y": {"field": "u", "type": "quantitative", "scale": {"domain": [0, 450000000], "nice": false},
    "axis": {"orient": "left", "grid": true, "values": [0,50000000,100000000,150000000,200000000,250000000,300000000,350000000,400000000,450000000], "format": "d", "labelPadding": 3}},
   "color": {"datum": "Upload", "type": "nominal",
    "scale": {"domain": ["Upload", "Ping", "Download"], "range": ["#8fd3b8", "#ffd320", "#004586"]},
    "legend": {"title": null, "orient": "none", "legendX": 1430, "legendY": 276, "symbolType": "stroke", "symbolSize": 700, "symbolStrokeWidth": 1.5, "labelFont": "Liberation Sans", "labelFontSize": 12, "labelColor": "#000000", "rowPadding": 0}}}},
 {"mark": {"type": "line", "strokeWidth": 1.1},
  "encoding": {
   "y": {"field": "p", "type": "quantitative", "scale": {"domain": [0, 700], "nice": false},
    "axis": {"orient": "right", "grid": false, "values": [0,100,200,300,400,500,600,700], "labelPadding": 3}},
   "color": {"datum": "Ping", "type": "nominal"}}},
 {"mark": {"type": "line", "strokeWidth": 1.1},
  "encoding": {
   "y": {"field": "d", "type": "quantitative", "scale": {"domain": [0, 450000000], "nice": false}, "axis": null},
   "color": {"datum": "Download", "type": "nominal"}}}
],
"resolve": {"scale": {"y": "independent"}, "axis": {"y": "independent"}}
}
